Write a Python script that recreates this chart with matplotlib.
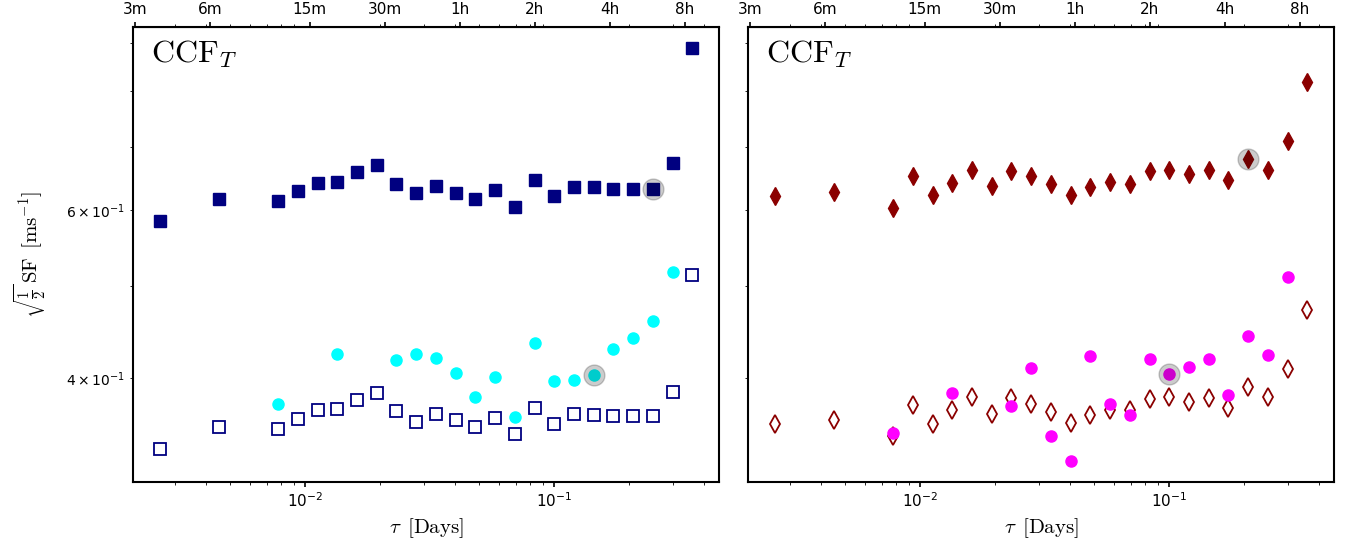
import matplotlib.pyplot as plt

# lag tau in days
tau = [0.002608, 0.004507, 0.007789, 0.009346, 0.011216, 0.013459, 0.016151, 0.019381,
       0.023257, 0.027908, 0.033490, 0.040188, 0.048225, 0.057870, 0.069444, 0.083333,
       0.1, 0.12, 0.144, 0.1728, 0.20736, 0.248832, 0.298598, 0.358318]
# the circle series only has some of the lags
tau_c = [0.007789, 0.013459, 0.023257, 0.027908, 0.033490, 0.040188, 0.048225, 0.057870,
         0.069444, 0.083333, 0.1, 0.12, 0.144, 0.1728, 0.20736, 0.248832, 0.298598]

# left panel
sq_full = [0.584, 0.616, 0.614, 0.628, 0.641, 0.642, 0.658, 0.669, 0.639, 0.626, 0.637, 0.626,
           0.616, 0.630, 0.605, 0.646, 0.621, 0.635, 0.634, 0.632, 0.632, 0.632, 0.672, 0.889]
sq_open = [0.337, 0.355, 0.354, 0.362, 0.370, 0.371, 0.379, 0.386, 0.369, 0.360, 0.367, 0.361,
           0.355, 0.363, 0.349, 0.372, 0.358, 0.367, 0.366, 0.365, 0.365, 0.365, 0.387, 0.513]
circ_cyan = [0.376, 0.424, 0.418, 0.424, 0.420, 0.405, 0.382, 0.401, 0.364, 0.435, 0.397,
             0.398, 0.403, 0.429, 0.441, 0.459, 0.517]

# right panel
dia_full = [0.621, 0.627, 0.604, 0.652, 0.622, 0.641, 0.662, 0.636, 0.659, 0.652, 0.639, 0.623,
            0.634, 0.643, 0.640, 0.659, 0.661, 0.655, 0.661, 0.646, 0.680, 0.662, 0.710, 0.818]
dia_open = [0.358, 0.361, 0.348, 0.375, 0.358, 0.370, 0.382, 0.367, 0.381, 0.376, 0.368, 0.359,
            0.366, 0.370, 0.370, 0.380, 0.382, 0.377, 0.381, 0.372, 0.391, 0.382, 0.409, 0.472]
circ_mag = [0.350, 0.386, 0.374, 0.410, 0.348, 0.327, 0.422, 0.376, 0.366, 0.419, 0.404,
            0.411, 0.419, 0.384, 0.443, 0.423, 0.510]

# which points get the grey highlight (index into the series)
hl_left = (21, 12)   # sq_full, circ_cyan
hl_right = (20, 10)  # dia_full, circ_mag

top_minutes = [3, 6, 15, 30, 60, 120, 240, 480]
top_labels = ["3m", "6m", "15m", "30m", "1h", "2h", "4h", "8h"]

fig, axs = plt.subplots(1, 2, figsize=(13.52, 5.45), dpi=100, sharey=True)
fig.subplots_adjust(left=0.0984, right=0.9867, bottom=0.1156, top=0.9505, wspace=0.0495)

ax = axs[0]
ax.plot(tau, sq_full, ls="none", marker="s", ms=8, color="navy")
ax.plot(tau, sq_open, ls="none", marker="s", ms=8, mfc="white", mec="navy", mew=1.3)
ax.plot(tau_c, circ_cyan, ls="none", marker="o", ms=8, color="cyan")
ax.plot([tau[hl_left[0]], tau_c[hl_left[1]]], [sq_full[hl_left[0]], circ_cyan[hl_left[1]]],
        ls="none", marker="o", ms=15, color="k", alpha=0.2)

ax = axs[1]
ax.plot(tau, dia_full, ls="none", marker="d", ms=9, color="darkred")
ax.plot(tau, dia_open, ls="none", marker="d", ms=9, mfc="white", mec="darkred", mew=1.3)
ax.plot(tau_c, circ_mag, ls="none", marker="o", ms=8, color="magenta")
ax.plot([tau[hl_right[0]], tau_c[hl_right[1]]], [dia_full[hl_right[0]], circ_mag[hl_right[1]]],
        ls="none", marker="o", ms=15, color="k", alpha=0.2)

for i, ax in enumerate(axs):
    ax.set_xscale("log")
    ax.set_yscale("log")
    for s in ax.spines.values():
        s.set_linewidth(1.5)
    ax.tick_params(which="major", width=1.2, labelsize=11)
    ax.text(0.03, 0.975, r"$\mathrm{CCF}_T$", transform=ax.transAxes, ha="left", va="top",
            fontsize=23, math_fontfamily="cm")
    ax.set_xlabel(r"$\tau\ \,[\mathrm{Days}]$", fontsize=15, math_fontfamily="cm")
    sec = ax.secondary_xaxis("top")
    sec.set_xticks([m / 1440 for m in top_minutes], labels=top_labels)
    sec.tick_params(which="major", width=1.2, labelsize=11)

axs[0].set_ylabel(r"$\sqrt{\frac{1}{2}}\,\mathrm{SF}\ \,[\mathrm{ms}^{-1}]$", fontsize=15,
                  math_fontfamily="cm", labelpad=13)

fig.savefig("out.png", dpi=100)
